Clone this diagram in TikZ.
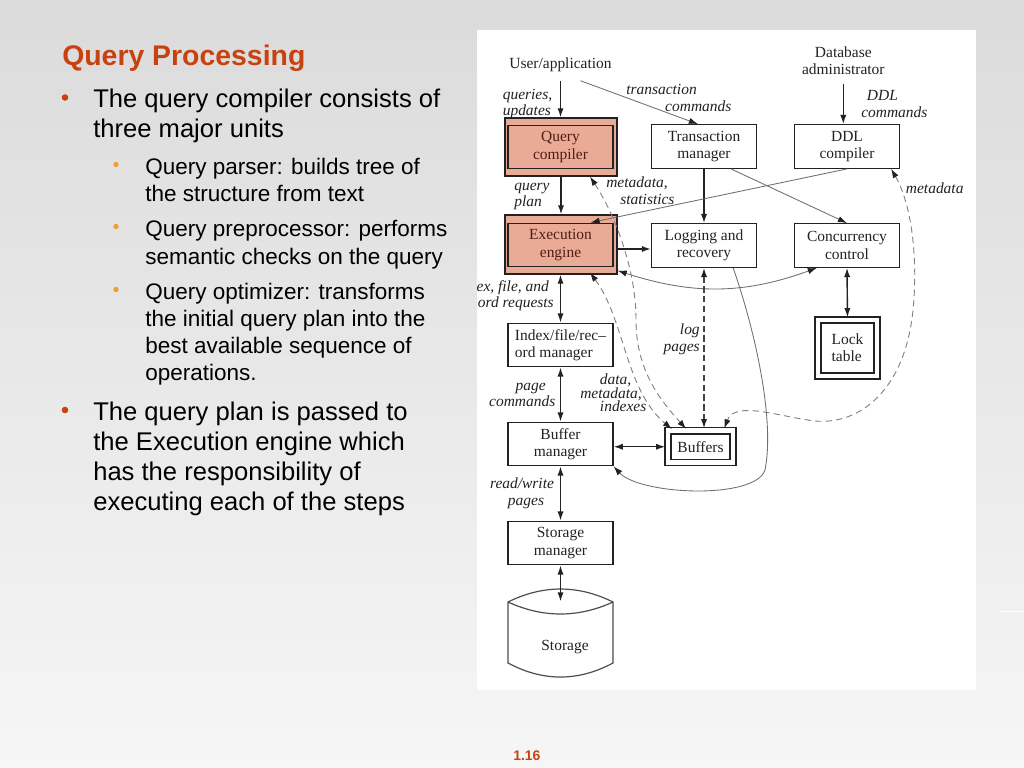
\documentclass[tikz,border=0pt]{standalone}
\usepackage{fontspec}
\setmainfont{Liberation Sans}
\newfontfamily\slidefont{Liberation Sans}
\newfontfamily\diagfont{Liberation Serif}
\usetikzlibrary{arrows.meta,calc}
\definecolor{bgtop}{RGB}{219,219,219}
\definecolor{bgbot}{RGB}{246,246,246}
\definecolor{titlec}{RGB}{200,66,16}
\definecolor{subbul}{RGB}{240,160,50}
\definecolor{hlfill}{RGB}{233,170,150}
\definecolor{hltext}{RGB}{80,30,20}
\definecolor{ink}{RGB}{34,34,34}
\definecolor{thinc}{RGB}{110,110,110}
\definecolor{dshc}{RGB}{130,130,130}
\newcommand\boxfont{\diagfont\fontsize{11}{12.2}\selectfont}
\newcommand\lblfont{\diagfont\itshape\fontsize{11}{11.8}\selectfont}
\newcommand\dmifont{\diagfont\itshape\fontsize{11}{9.6}\selectfont\lineskiplimit=-5pt\relax}
\newcommand\titlefont{\slidefont\bfseries\fontsize{20.2}{24}\selectfont}
\newcommand\bodyfont{\slidefont\fontsize{18.2}{21}\selectfont}
\newcommand\subfont{\slidefont\fontsize{16}{19}\selectfont}
\begin{document}
\begin{tikzpicture}[x=0.025cm,y=-0.025cm,
  box/.style={draw=ink, line width=0.85pt, fill=white, minimum width=2.625cm, minimum height=1.09cm,
    inner sep=0pt, align=center, font=\boxfont, text=ink},
  hlbox/.style={fill=hlfill, text=hltext},
  hl/.style={draw=ink, line width=0.85pt, fill=hlfill, minimum width=2.8cm, inner sep=0pt},
  dbl/.style={double, double distance=3.5pt},
  plaintext/.style={font=\boxfont, text=ink, inner sep=0pt, align=center},
  lbl/.style={font=\lblfont, text=ink, inner sep=0pt},
  darr/.style={draw=ink, line width=1pt},
  garr/.style={draw=thinc, line width=0.6pt},
  dashline/.style={draw=dshc, line width=0.65pt, dash pattern=on 4.5pt off 3pt},
  darkdash/.style={draw=ink!85, line width=1pt, dash pattern=on 4.5pt off 2.5pt},
  oneway/.style={-{Latex[length=6.5pt,width=4.4pt,color=ink]}},
  twoway/.style={{Latex[length=6.5pt,width=4.4pt,color=ink]}-{Latex[length=6.5pt,width=4.4pt,color=ink]}},
  line/.style={anchor=base west, inner sep=0pt, text=black}
]
\useasboundingbox (0,0) rectangle (1024,768);
\shade[top color=bgtop, bottom color=bgbot] (0,0) rectangle (1024,768);
\fill[white] (477,30) rectangle (976,690);
\draw[white, line width=1.2pt] (1000,611.5) -- (1024,611.5);

% ---------- slide text ----------
\node[line, font=\titlefont, text=titlec] (title) at (62,66) {Query Processing};
\fill[titlec] (65,97.5) circle (3.3);
\node[line, font=\bodyfont] (l1) at (93,108) {The query compiler consists of};
\node[line, font=\bodyfont] (l2) at (93,138) {three major units};
\fill[subbul] (116,164.5) circle (2.7);
\node[line, font=\subfont] (s1) at (145,174) {Query parser: builds tree of};
\node[line, font=\subfont] (s2) at (145,201) {the structure from text};
\fill[subbul] (116,226.5) circle (2.7);
\node[line, font=\subfont] (s3) at (145,236) {Query preprocessor: performs};
\node[line, font=\subfont] (s4) at (145,264) {semantic checks on the query};
\fill[subbul] (116,289.5) circle (2.7);
\node[line, font=\subfont] (s5) at (145,299) {Query optimizer: transforms};
\node[line, font=\subfont] (s6) at (145,326) {the initial query plan into the};
\node[line, font=\subfont] (s7) at (145,353) {best available sequence of};
\node[line, font=\subfont] (s8) at (145,380) {operations.};
\fill[titlec] (65,410) circle (3.3);
\node[line, font=\bodyfont] (l3) at (93,420) {The query plan is passed to};
\node[line, font=\bodyfont] (l4) at (93,450) {the Execution engine which};
\node[line, font=\bodyfont] (l5) at (93,480) {has the responsibility of};
\node[line, font=\bodyfont] (l6) at (93,510) {executing each of the steps};
\node[line, font=\slidefont\bfseries\fontsize{9.9}{12}\selectfont, text=titlec] (pg) at (513,760) {1.16};

% ---------- diagram nodes ----------
\node[plaintext, inner ysep=6pt] (user) at (560.5,65) {User/application};
\node[plaintext, inner ysep=6pt] (dba) at (843.3,61) {Database\\administrator};

\node[hl, minimum height=1.45cm] (qchl) at (561,147) {};
\node[box, hlbox] (qc) at (560.5,147) {Query\\compiler};
\node[box] (tm) at (704,146.5) {Transaction\\manager};
\node[box] (ddl) at (847,146.5) {DDL\\compiler};

\node[hl, minimum height=1.475cm] (eehl) at (561,244.5) {};
\node[box, hlbox] (ee) at (560.5,245) {Execution\\engine};
\node[box] (lr) at (704,245.5) {Logging and\\recovery};
\node[box] (cc) at (847,245.5) {Concurrency\\control};

\node[box, dbl, align=left, minimum width=1.475cm, minimum height=1.4cm] (lock) at (847.5,348) {Lock\\table};
\node[box, align=left] (ifr) at (560.5,345) {Index/file/rec\textendash\\ord manager};
\node[box] (bm) at (560.5,444) {Buffer\\manager};
\node[box, dbl, minimum width=1.625cm, minimum height=0.79cm] (buf) at (700.5,446.75) {Buffers};
\node[box] (sm) at (560.5,543) {Storage\\manager};

% storage cylinder
\draw[ink!80, line width=0.85pt, fill=white]
  (508,602) .. controls (543,584.7) and (578,584.7) .. (613,602)
  -- (613,663) .. controls (578,681.7) and (543,681.7) .. (508,663) -- cycle;
\draw[ink!80, line width=0.85pt] (508,602) .. controls (543,618) and (578,618) .. (613,602);
\node[plaintext] (stor) at (565,647) {Storage};
\coordinate (stortip) at (560.5,601.5);

% ---------- connectors ----------
\draw[darr, oneway] (user.south) -- (user.south |- qchl.north);
\draw[garr, oneway] ($(user.south)+(20,0)$) -- ($(tm.north)+(-6,0)$);
\draw[darr, oneway] (dba.south) -- (dba.south |- ddl.north);
\draw[darr, oneway] (qchl.south) -- (eehl.north);
\draw[darr, oneway] (tm.south) -- (lr.north);
\draw[garr, oneway] ($(tm.south)+(27,0)$) -- (cc.north);
\draw[garr, oneway] (ddl.south) -- ($(ee.north)+(30,0)$);
\draw[darr, oneway] ($(eehl.east)+(0,4.5)$) -- ($(lr.west)+(0,3.5)$);
\draw[garr, twoway] ($(eehl.south east)+(0,-4)$) to[out=-18,in=-160] ($(cc.south west)+(23,0)$);
\draw[darr, twoway, shorten >=1.5pt] (cc.south) -- (lock.north);
\draw[darr, twoway] (ifr.north |- eehl.south) -- (ifr.north);
\draw[darr, twoway] (ifr.south) -- (bm.north);
\draw[darr, twoway, shorten >=1.5pt] (bm.east |- buf.west) -- (buf.west);
\draw[darr, twoway] (bm.south) -- (sm.north);
\draw[darr, twoway] (sm.south) -- (stortip);
\draw[darkdash, twoway, shorten >=1.5pt] (lr.south) -- (lr.south |- buf.north);

\draw[dashline, twoway, shorten >=1.5pt] ($(qchl.south)+(29,0)$)
  .. controls (612,210) and (636,265) .. (636,320)
  .. controls (636,370) and (660,400) .. ($(buf.north)+(-13,0)$);
\draw[dashline, twoway, shorten >=1.5pt] ($(eehl.south)+(29,-2)$)
  .. controls (625,320) and (625,390) .. ($(buf.north)+(-27,0)$);
\draw[dashline, twoway, shorten >=1.5pt] ($(ddl.south east)+(-9,0)$)
  .. controls (912,205) and (918,260) .. (913,310)
  .. controls (905,390) and (860,425) .. (815,421)
  .. controls (780,417) and (735,400) .. ($(buf.north)+(23,0)$);
\draw[garr, oneway] ($(lr.south east)+(-24,0)$)
  .. controls (755,330) and (775,420) .. (765,470)
  .. controls (755,500) and (640,495) .. (bm.south east);

% ---------- labels ----------
\node[lbl, align=left, anchor=west] (qu) at (502.5,104) {queries,\\updates};
\node[lbl, align=left, anchor=west] (tc) at (626,98) {transaction\\\hspace*{27.7pt}commands};
\node[lbl, align=left, anchor=west] (ddlc) at (861,104) {\hspace*{4pt}DDL\\commands};
\node[lbl, align=left, anchor=west] (qp) at (514,196.5) {query\\plan};
\node[lbl, align=left, anchor=west] (ms) at (606,191) {metadata,\\\hspace*{10pt}statistics};
\node[lbl] (md) at (934.7,188.3) {metadata};
\begin{scope}
\clip (477,30) rectangle (976,690);
\node[lbl, align=right, anchor=east] (ifreq) at (554,295.5) {ex, file, and\hspace*{3.5pt}\\ord requests};
\end{scope}
\node[lbl, align=right, anchor=east] (lp) at (700,339) {log\\pages};
\node[lbl, align=center] (pc) at (522.3,395) {\hspace*{12pt}page\\commands};
\node[lbl, align=left, anchor=west, font=\dmifont] (dmi) at (580,393) {\hspace*{14pt}data,\\metadata,\\\hspace*{14pt}indexes};
\node[lbl, align=center] (rw) at (522,493) {read/write\\\hspace*{5.7pt}pages};
\end{tikzpicture}
\end{document}
